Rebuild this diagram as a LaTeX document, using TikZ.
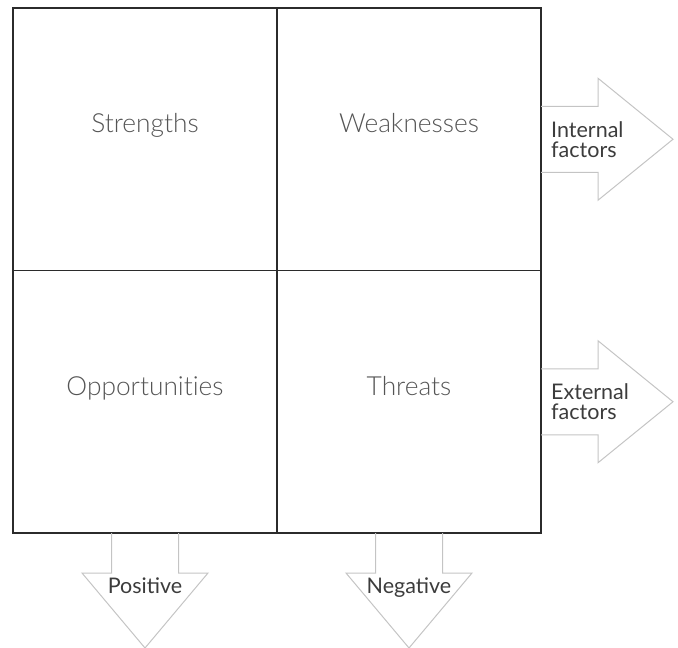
\documentclass[tikz,border=0pt]{standalone}
\usepackage{fontspec}
\setmainfont{Lato}
\newfontfamily\lightfont[RawFeature=-liga]{Lato Light}
\usetikzlibrary{positioning}

\definecolor{gridline}{HTML}{2B2B2B}
\definecolor{celltext}{HTML}{555555}
\definecolor{sidetext}{HTML}{3C3C3C}
\definecolor{arrowline}{HTML}{C4C4C4}

\tikzset{
  cell/.style={draw=gridline, line width=1.5pt, rectangle, outer sep=0pt, minimum width=264pt, minimum height=262.5pt},
  celllabel/.style={anchor=base, inner sep=0pt, text=celltext, font=\lightfont\fontsize{26.3}{26}\selectfont},
  factor/.style={inner sep=0pt, text=sidetext, align=left, font=\fontsize{21.5}{20}\selectfont},
  blockarrow/.style={draw=arrowline, line width=1pt, line join=miter}
}

\begin{document}
\begin{tikzpicture}[x=1pt, y=-1pt]
\useasboundingbox (0,0) rectangle (678,648);

% the four quadrants
\node (strengths) [cell] at (145,139.25) {};
\node (weaknesses) [cell, right=0pt of strengths] {};
\node (opportunities) [cell, below=0pt of strengths] {};
\node (threats) [cell, right=0pt of opportunities] {};

% quadrant titles
\node (strengthstext) [celllabel] at ([yshift=7pt]strengths.center) {Strengths};
\node (weaknessestext) [celllabel] at ([yshift=7pt]weaknesses.center) {Weaknesses};
\node (opportunitiestext) [celllabel] at ([yshift=6pt]opportunities.center) {Opportunities};
\node (threatstext) [celllabel] at ([yshift=6pt]threats.center) {Threats};

% block arrows to the right (open at the grid edge)
\draw[blockarrow] (weaknesses.east) ++(0,-33) -- ++(57,0) -- ++(0,-28) -- ++(75,61) -- ++(-75,61) -- ++(0,-28) -- ++(-57,0);
\draw[blockarrow] (threats.east) ++(0,-33) -- ++(57,0) -- ++(0,-28) -- ++(75,61) -- ++(-75,61) -- ++(0,-28) -- ++(-57,0);

% block arrows downwards
\draw[blockarrow] (opportunities.south) ++(-33.5,0) -- ++(0,40) -- ++(-29.5,0) -- ++(63,75) -- ++(63,-75) -- ++(-29.5,0) -- ++(0,-40);
\draw[blockarrow] (threats.south) ++(-33.5,0) -- ++(0,40) -- ++(-29.5,0) -- ++(63,75) -- ++(63,-75) -- ++(-29.5,0) -- ++(0,-40);

% arrow labels
\node (internal) [factor, right=10pt of weaknesses] {Internal\\factors};
\node (external) [factor, right=10pt of threats] {External\\factors};
\node (positive) [factor, anchor=base] at ([yshift=-60pt]opportunities.south) {Positive};
\node (negative) [factor, anchor=base] at ([yshift=-60pt]threats.south) {Negative};
\end{tikzpicture}
\end{document}
